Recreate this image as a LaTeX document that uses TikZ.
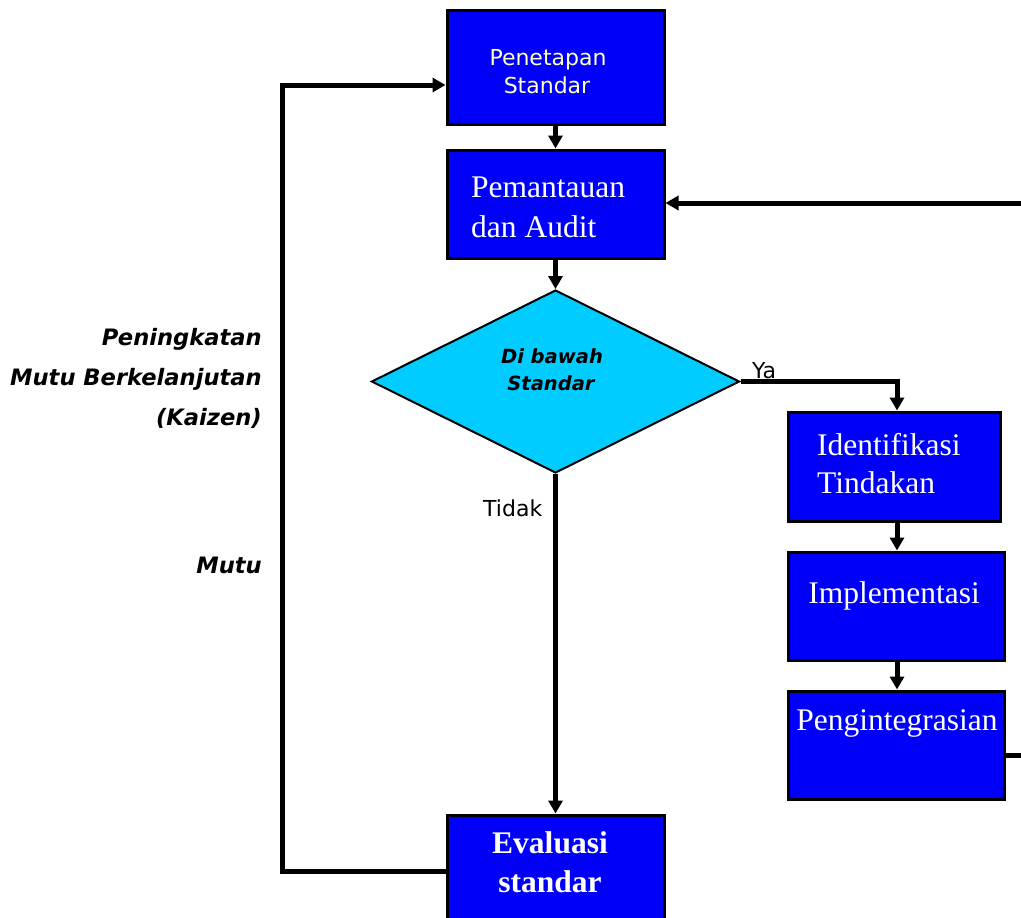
\documentclass[tikz,border=0pt]{standalone}
\usepackage{fontspec}
\setmainfont{Liberation Serif}
\newfontfamily\vsans{DejaVu Sans}
\usetikzlibrary{shapes.geometric,arrows.meta}
\definecolor{boxblue}{RGB}{0,0,250}
\definecolor{diacyan}{RGB}{0,204,255}
\definecolor{paleyellow}{RGB}{255,255,200}
\begin{document}
\begin{tikzpicture}[x=1pt,y=-1pt,
  box/.style={draw=black,line width=3pt,fill=boxblue,inner sep=0pt,rectangle},
  conn/.style={line width=5pt,line join=miter,-{Triangle[length=13pt,width=14pt]}},
  plain/.style={line width=5pt,line join=miter},
  serif/.style={text=white,font=\fontsize{31.5}{36}\selectfont,inner sep=0pt},
  lbl/.style={font=\vsans\bfseries\itshape\fontsize{22.6}{26}\selectfont,inner sep=0pt,anchor=base east},
  small/.style={font=\vsans\fontsize{22}{26}\selectfont,inner sep=0pt}]
\useasboundingbox (0,0) rectangle (1021,918);
\fill[white] (0,0) rectangle (1021,918);
% boxes
\node[box,minimum width=217pt,minimum height=114pt] (pen) at (555.5,67) {};
\node[box,minimum width=217pt,minimum height=108pt] (pem) at (555.5,204) {};
\node[draw=black,line width=2pt,fill=diacyan,diamond,inner sep=0pt,minimum width=368pt,minimum height=183pt] (dia) at (555.5,381.5) {};
\node[box,minimum width=212pt,minimum height=109pt] (ide) at (894,466.5) {};
\node[box,minimum width=216pt,minimum height=108pt] (imp) at (896,606) {};
\node[box,minimum width=216pt,minimum height=108pt] (ing) at (896,745) {};
\node[box,minimum width=217pt,minimum height=120pt] (eva) at (555.5,875) {};
% texts in boxes
\node[text=paleyellow,font=\vsans\fontsize{22}{26}\selectfont,inner sep=0pt,anchor=base] (tpen1) at (548,65) {Penetapan};
\node[text=paleyellow,font=\vsans\fontsize{22}{26}\selectfont,inner sep=0pt,anchor=base] (tpen2) at (547,93) {Standar};
\node[serif,anchor=base west] (tpem1) at (471,197) {Pemantauan};
\node[serif,anchor=base west] (tpem2) at (471,237) {dan Audit};
\node[font=\vsans\bfseries\itshape\fontsize{19.5}{22}\selectfont,inner sep=0pt,anchor=base] (tdia1) at (552,363) {Di bawah};
\node[font=\vsans\bfseries\itshape\fontsize{19.5}{22}\selectfont,inner sep=0pt,anchor=base] (tdia2) at (551,390) {Standar};
\node[serif,anchor=base west] (tide1) at (817,455) {Identifikasi};
\node[serif,anchor=base west] (tide2) at (817,493) {Tindakan};
\node[serif,anchor=base] (timp) at (894,603) {Implementasi};
\node[serif,anchor=base] (ting) at (897,730) {Pengintegrasian};
\node[serif,font=\bfseries\fontsize{31.5}{36}\selectfont,anchor=base] (teva1) at (550,853) {Evaluasi};
\node[serif,font=\bfseries\fontsize{31.5}{36}\selectfont,anchor=base] (teva2) at (550,892) {standar};
% side labels
\node[lbl] (l1) at (262,345) {Peningkatan};
\node[lbl] (l2) at (262,385) {Mutu Berkelanjutan};
\node[lbl] (l3) at (262,425) {(Kaizen)};
\node[lbl] (l4) at (262,573) {Mutu};
\node[small,anchor=base west] (ya) at (752,378) {Ya};
\node[small,anchor=base west] (tidak) at (483,516) {Tidak};
% connectors
\draw[conn] (pen.south) -- (pem.north);
\draw[conn] (pem.south) -- (dia.north);
\coordinate (ya1) at (897,381.5);
\draw[conn] (dia.east) -- (ya1) -- (ya1 |- ide.north);
\draw[conn] (ya1 |- ide.south) -- (ya1 |- imp.north);
\draw[conn] (ya1 |- imp.south) -- (ya1 |- ing.north);
\draw[conn] (dia.south) -- (eva.north);
\coordinate (re) at (1030,755);
\draw[plain] (re -| ing.east) -- (re);
\coordinate (ri) at (1030,203);
\draw[conn] (ri) -- (ri -| pem.east);
\coordinate (k1) at (282,871);
\coordinate (k2) at (282,85);
\draw[conn] (k1 -| eva.west) -- (k1) -- (k2) -- (k2 -| pen.west);
\end{tikzpicture}
\end{document}
